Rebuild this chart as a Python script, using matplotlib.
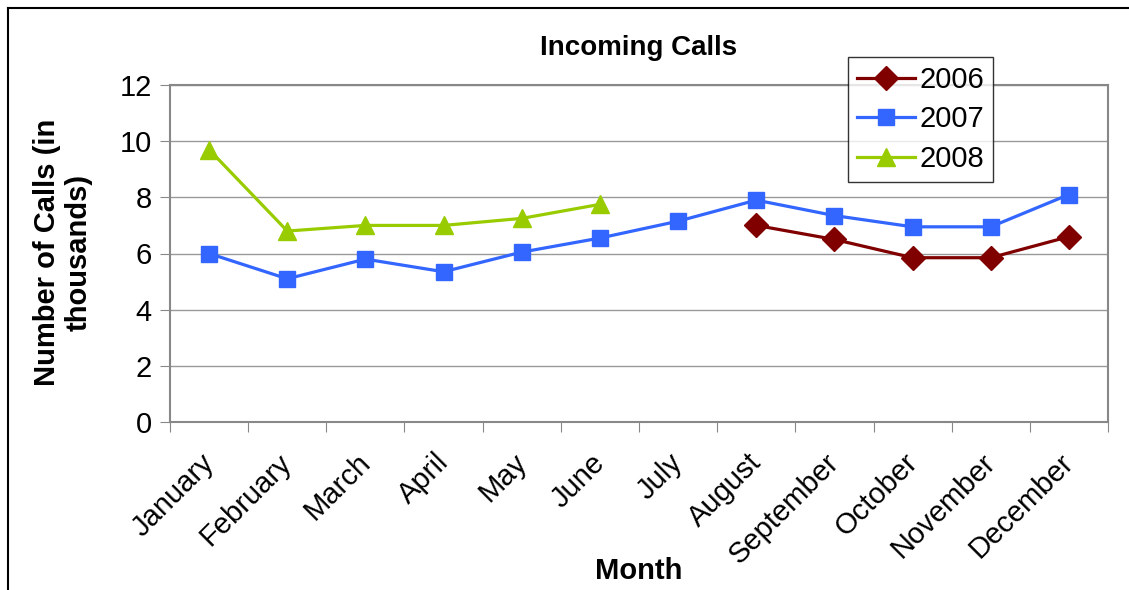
import numpy as np
import matplotlib
matplotlib.use("Agg")
import matplotlib.pyplot as plt
from matplotlib.lines import Line2D

plt.rcParams['font.family'] = ['Liberation Sans', 'DejaVu Sans']

months = ["January", "February", "March", "April", "May", "June", "July",
          "August", "September", "October", "November", "December"]
calls_2006 = [None, None, None, None, None, None, None, 7.0, 6.5, 5.85, 5.85, 6.6]
calls_2007 = [6.0, 5.1, 5.8, 5.35, 6.05, 6.55, 7.15, 7.9, 7.35, 6.95, 6.95, 8.1]
calls_2008 = [9.7, 6.8, 7.0, 7.0, 7.25, 7.75, None, None, None, None, None, None]
y_ticks = [0, 2, 4, 6, 8, 10, 12]


def to_arr(vals):
    return np.array([np.nan if v is None else v for v in vals], dtype=float)


W, H = 1129, 590
fig = plt.figure(figsize=(W / 100, H / 100), dpi=100)
ax = fig.add_axes([170 / W, 1 - 422 / H, 938 / W, 337 / H])

x = np.arange(len(months))
ax.plot(x, to_arr(calls_2006), color="#800000", lw=2.3, marker="D", ms=12, label="2006")
ax.plot(x, to_arr(calls_2007), color="#3366FF", lw=2.3, marker="s", ms=11.5, label="2007")
ax.plot(x, to_arr(calls_2008), color="#99CC00", lw=2.3, marker="^", ms=13, label="2008")

ax.set_xlim(-0.5, len(months) - 0.5)
ax.set_ylim(0, 12)
ax.set_yticks(y_ticks)
ax.set_yticklabels([str(t) for t in y_ticks], fontsize=21)
ax.yaxis.grid(True, color="#999999", lw=1)
ax.set_axisbelow(True)

# category ticks sit between months; rotated labels end just left of each month
ax.set_xticks(np.arange(-0.5, len(months), 1.0))
ax.set_xticklabels([])
ax.set_xticks(x - 0.12, minor=True)
ax.set_xticklabels(months, minor=True, rotation=45, ha="right", va="top",
                   rotation_mode="anchor", fontsize=21)
ax.tick_params(axis="x", which="minor", length=0, pad=19)
ax.tick_params(axis="x", which="major", length=7, color="#888888", direction="out")
ax.tick_params(axis="y", length=7, color="#888888", direction="out", pad=6)

for s in ax.spines.values():
    s.set_color("#888888")
    s.set_linewidth(1.5)

fig.text(639 / W, 1 - 48 / H, "Incoming Calls", fontsize=20, fontweight="bold",
         ha="center", va="center")
fig.text(639 / W, 1 - 571 / H, "Month", fontsize=21, fontweight="bold",
         ha="center", va="center")
fig.text(63 / W, 1 - 252 / H, "Number of Calls (in\nthousands)", fontsize=21,
         fontweight="bold", rotation=90, ha="center", va="center",
         multialignment="center", linespacing=1.15)

leg = ax.legend(loc="upper left", bbox_to_anchor=((848 - 170) / 938, (422 - 57) / 337),
                fontsize=21, frameon=True, fancybox=False, edgecolor="black",
                handlelength=2.0, borderpad=0.3, labelspacing=0.4, handletextpad=0.15,
                borderaxespad=0)
leg.get_frame().set_linewidth(1.0)

# outer chart border (open at right and bottom like the clipped original)
fig.add_artist(Line2D([8 / W, 1], [1 - 8 / H, 1 - 8 / H], color="black", lw=1.5,
                      transform=fig.transFigure))
fig.add_artist(Line2D([8 / W, 8 / W], [0, 1 - 8 / H], color="black", lw=1.5,
                      transform=fig.transFigure))

fig.savefig("out.png", dpi=100, facecolor="white")
